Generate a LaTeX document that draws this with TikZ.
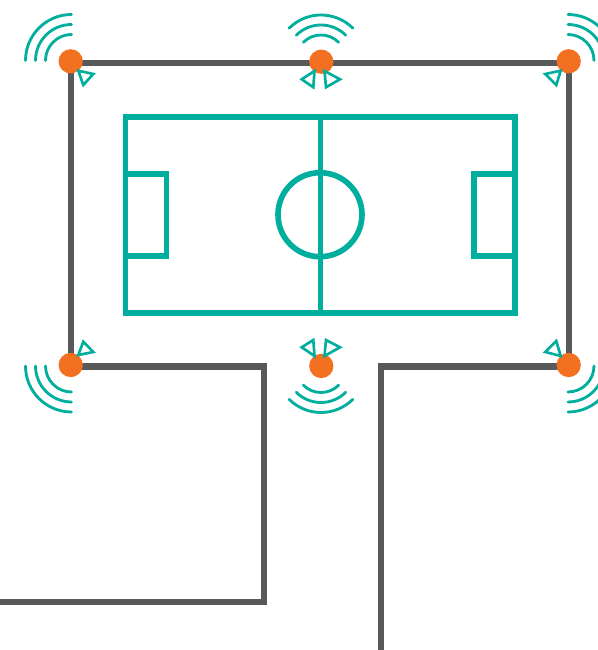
\documentclass[tikz,border=0pt]{standalone}
\usepackage{xcolor}
\usepackage{tikz}
\definecolor{wallgrey}{HTML}{58595B}
\definecolor{pitchteal}{HTML}{00AE9E}
\definecolor{sensororange}{HTML}{F37021}
\tikzset{
  wallline/.style={draw=wallgrey, line width=3.5pt},
  pitchline/.style={draw=pitchteal, line width=3.2pt},
  waveline/.style={draw=pitchteal, line width=1.6pt, line cap=round},
  conetip/.style={draw=pitchteal, line width=1.5pt},
  sensordot/.style={circle, fill=sensororange, minimum size=13.8pt, inner sep=0pt}
}

\begin{document}
\begin{tikzpicture}[x=0.02cm, y=0.02cm]

    \useasboundingbox (0, 0) rectangle (598, 650);
    \fill[white] (0, 0) rectangle (598, 650);

    % Wall corners
    \coordinate (wallTL) at (71, 587);
    \coordinate (wallTR) at (569, 587);
    \coordinate (wallBL) at (71, 283.5);
    \coordinate (wallBR) at (569, 283.5);
    \coordinate (wallLin) at (263.7, 283.5);
    \coordinate (wallLout) at (263.7, 48);
    \coordinate (wallLend) at (0, 48);
    \coordinate (wallRin) at (380.8, 283.5);
    \coordinate (wallRend) at (380.8, 0);

    % Stadium walls
    \draw[wallline] (wallBL) -- (wallTL) -- (wallTR) -- (wallBR);
    \draw[wallline] (wallBL) -- (wallLin) -- (wallLout) -- (wallLend);
    \draw[wallline] (wallBR) -- (wallRin) -- (wallRend);

    % Pitch
    \draw[pitchline] (125.5, 337.2) rectangle (514.7, 533);
    \draw[pitchline] (320.5, 337.2) -- (320.5, 533);
    \draw[pitchline] (125.5, 476.2) -- (166.5, 476.2) -- (166.5, 394.2) -- (125.5, 394.2);
    \draw[pitchline] (514.7, 476.2) -- (473.8, 476.2) -- (473.8, 394.2) -- (514.7, 394.2);
    \draw[pitchline] (320, 435.3) circle[radius=42];

    % Sensors
    \node[sensordot] (sensorTL) at (70.7, 588.7) {};
    \node[sensordot] (sensorTM) at (321.3, 588.3) {};
    \node[sensordot] (sensorTR) at (568.7, 588.7) {};
    \node[sensordot] (sensorBL) at (70.7, 285) {};
    \node[sensordot] (sensorBM) at (321.3, 284) {};
    \node[sensordot] (sensorBR) at (568.7, 285) {};

    % Signal waves, corners
    \foreach \r in {26, 36, 46} {
      \draw[waveline] ([shift={(71.5, 589.5)}]180:\r) arc[start angle=180, end angle=90, radius=\r];
      \draw[waveline] ([shift={(71.5, 284)}]180:\r) arc[start angle=180, end angle=270, radius=\r];
      \draw[waveline] ([shift={(568, 589.5)}]0:\r) arc[start angle=0, end angle=90, radius=\r];
      \draw[waveline] ([shift={(568, 284)}]0:\r) arc[start angle=0, end angle=-90, radius=\r];
    }

    % Signal waves, middle
    \foreach \r in {25, 35, 45} {
      \draw[waveline] ([shift={(321, 590)}]135:\r) arc[start angle=135, end angle=45, radius=\r];
      \draw[waveline] ([shift={(321, 282.5)}]225:\r) arc[start angle=225, end angle=315, radius=\r];
    }

    % Camera cones
    \draw[conetip] (78.3, 579.3) -- (93.3, 576) -- (83.3, 565) -- cycle;
    \draw[conetip] (314.5, 579) -- (301.7, 570.7) -- (313.3, 562.7) -- cycle;
    \draw[conetip] (324.5, 579) -- (340, 570.7) -- (326, 562.7) -- cycle;
    \draw[conetip] (560.7, 579.3) -- (545.3, 576) -- (556.3, 565) -- cycle;
    \draw[conetip] (78.3, 295) -- (93.3, 298) -- (83.3, 308.3) -- cycle;
    \draw[conetip] (313.3, 310) -- (301.7, 302.7) -- (314.5, 294) -- cycle;
    \draw[conetip] (326, 310) -- (340, 302.7) -- (324.5, 294) -- cycle;
    \draw[conetip] (560.7, 294) -- (545.3, 298) -- (556.3, 309) -- cycle;

\end{tikzpicture}
\end{document}
